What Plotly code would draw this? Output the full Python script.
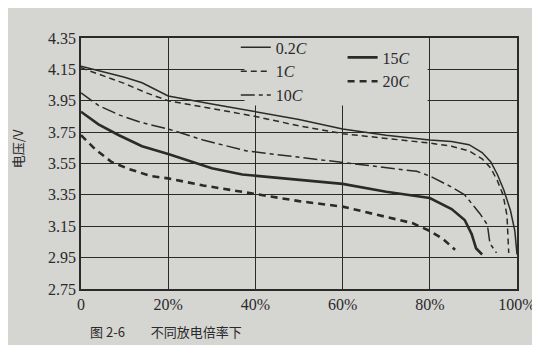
import plotly.graph_objects as go

# Discharge curves: x = discharged capacity (%), y = voltage (V)
x_02C = [0, 5, 10, 14, 20, 30, 40, 50, 60, 70, 80, 85, 89, 92, 94, 95.5, 97, 98.5, 99.5, 100]
y_02C = [4.17, 4.135, 4.10, 4.065, 3.98, 3.93, 3.88, 3.83, 3.77, 3.73, 3.70, 3.69, 3.67, 3.62, 3.56, 3.48, 3.38, 3.25, 3.12, 2.97]

x_1C = [0, 5, 10, 15, 20, 30, 40, 50, 60, 70, 80, 85, 89, 92, 94, 95.5, 96.8, 97.7, 98.1]
y_1C = [4.16, 4.11, 4.06, 4.00, 3.95, 3.90, 3.85, 3.79, 3.74, 3.71, 3.68, 3.66, 3.63, 3.58, 3.52, 3.44, 3.35, 3.22, 2.98]

x_10C = [0, 4, 8.7, 14, 20, 28, 38, 50, 61.5, 70, 77, 80, 85, 88, 91.5, 93.2, 93.8, 95.3]
y_10C = [4.00, 3.92, 3.86, 3.81, 3.77, 3.70, 3.63, 3.59, 3.55, 3.52, 3.50, 3.47, 3.40, 3.35, 3.23, 3.16, 3.04, 2.98]

x_15C = [0, 4, 8.7, 14, 20, 30, 37, 48, 60, 70, 80, 85, 88, 89.6, 90.6, 92]
y_15C = [3.88, 3.80, 3.73, 3.66, 3.61, 3.52, 3.48, 3.45, 3.42, 3.37, 3.33, 3.26, 3.19, 3.10, 3.01, 2.97]

x_20C = [0, 3.3, 7, 11, 16, 20, 28, 37.6, 41.6, 50, 60, 70, 76, 80, 83, 85.8]
y_20C = [3.73, 3.64, 3.56, 3.515, 3.47, 3.455, 3.41, 3.366, 3.35, 3.31, 3.275, 3.21, 3.17, 3.12, 3.07, 3.00]

x_ticks = [0, 20, 40, 60, 80, 100]
x_tick_labels = ["0", "20%", "40%", "60%", "80%", "100%"]
y_ticks = [2.75, 2.95, 3.15, 3.35, 3.55, 3.75, 3.95, 4.15, 4.35]
y_tick_labels = ["2.75", "2.95", "3.15", "3.35", "3.55", "3.75", "3.95", "4.15", "4.35"]

INK = "#2a2a2a"
PAPER = "#d5d5d2"
SERIF = "Liberation Serif"

fig = go.Figure()
fig.add_trace(go.Scatter(x=x_02C, y=y_02C, mode="lines", name="0.2<i>C</i>",
                         line=dict(color=INK, width=1.5), legend="legend"))
fig.add_trace(go.Scatter(x=x_1C, y=y_1C, mode="lines", name="1<i>C</i>",
                         line=dict(color=INK, width=1.5, dash="6px,4px"), legend="legend"))
fig.add_trace(go.Scatter(x=x_10C, y=y_10C, mode="lines", name="10<i>C</i>",
                         line=dict(color=INK, width=1.5, dash="14px,4px,4px,4px"), legend="legend"))
fig.add_trace(go.Scatter(x=x_15C, y=y_15C, mode="lines", name="15<i>C</i>",
                         line=dict(color=INK, width=2.6), legend="legend2"))
fig.add_trace(go.Scatter(x=x_20C, y=y_20C, mode="lines", name="20<i>C</i>",
                         line=dict(color=INK, width=2.6, dash="7px,5px"), legend="legend2"))

# blank area behind the legend (grid lines hidden there)
fig.add_shape(type="rect", xref="x", yref="y", x0=37.5, x1=79.5, y0=3.92, y1=4.35,
              fillcolor=PAPER, line=dict(width=0), layer="between")

legend_common = dict(bgcolor="rgba(0,0,0,0)", borderwidth=0,
                     font=dict(family=SERIF, size=16, color=INK),
                     itemwidth=30, yanchor="top", xanchor="left")

fig.update_layout(
    width=540, height=345,
    margin=dict(l=73, r=23, t=30, b=64),
    paper_bgcolor=PAPER, plot_bgcolor=PAPER,
    legend=dict(x=0.355, y=1.03, **legend_common),
    legend2=dict(x=0.60, y=0.99, **legend_common),
    xaxis=dict(range=[0, 100], tickvals=x_ticks, ticktext=x_tick_labels,
               showgrid=True, gridcolor=INK, gridwidth=1.4,
               showline=True, linecolor=INK, linewidth=1.6, mirror=True,
               zeroline=False, ticks="",
               tickfont=dict(family=SERIF, size=16, color=INK)),
    yaxis=dict(range=[2.75, 4.35], tickvals=y_ticks, ticktext=y_tick_labels,
               showgrid=True, gridcolor=INK, gridwidth=1.4,
               showline=True, linecolor=INK, linewidth=1.6, mirror=True,
               zeroline=False, ticks="",
               tickfont=dict(family=SERIF, size=16, color=INK)),
    annotations=[
        dict(text="电压/V", xref="paper", yref="paper", x=-0.145, y=0.56,
             xanchor="center", yanchor="middle",
             textangle=-90, showarrow=False,
             font=dict(family="Noto Sans CJK SC", size=13, color=INK)),
        dict(text="图 2-6　　不同放电倍率下", xref="paper", yref="paper",
             x=0.016, y=-0.17, xanchor="left", yanchor="middle", showarrow=False,
             font=dict(family="Noto Sans CJK SC", size=13, color=INK)),
    ],
)

fig.write_html("out.html")
